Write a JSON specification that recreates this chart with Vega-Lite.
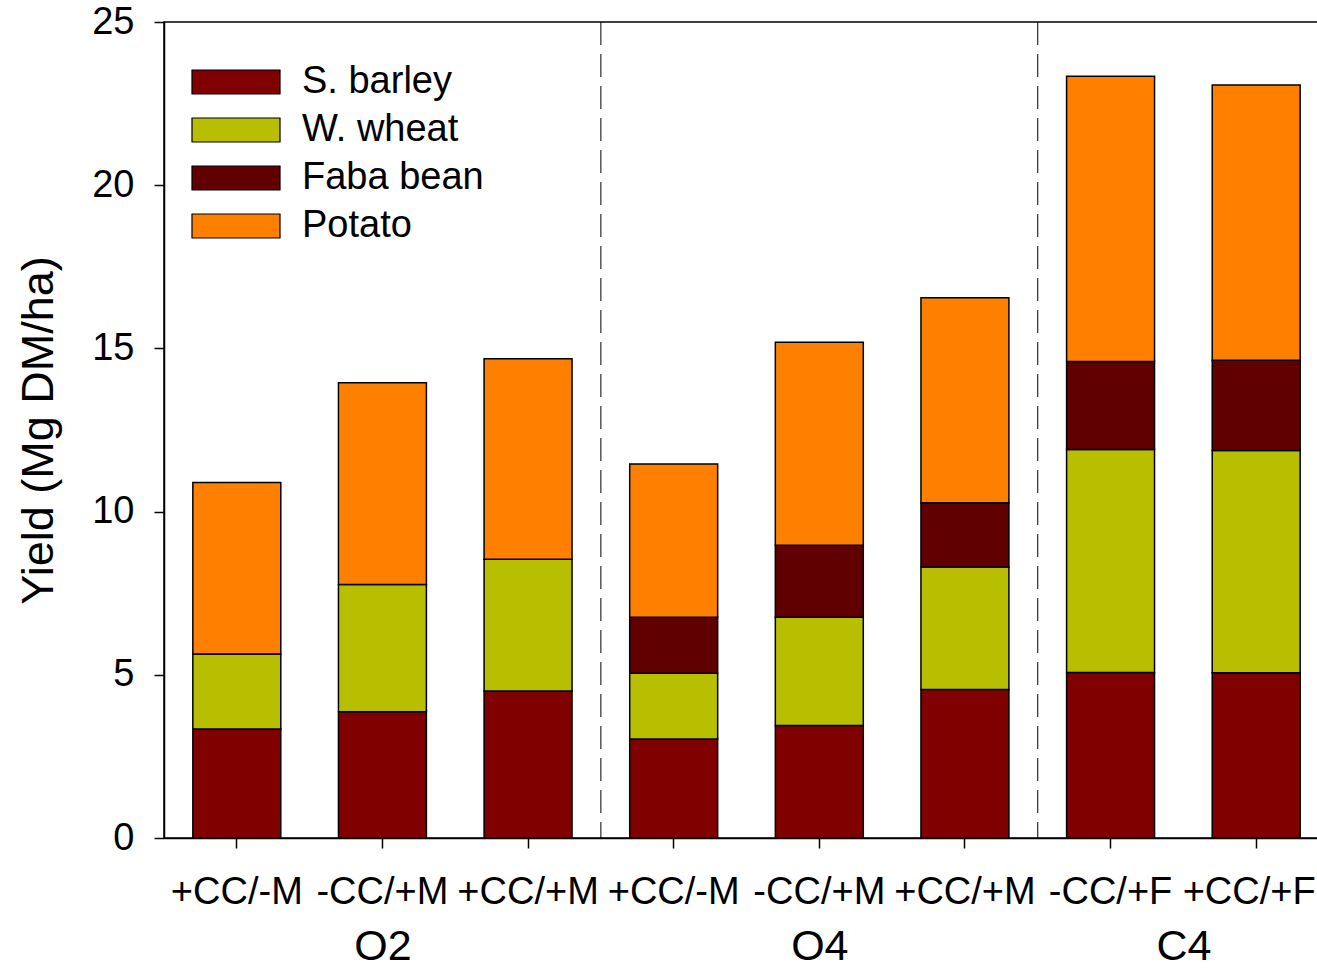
{
  "$schema": "https://vega.github.io/schema/vega-lite/v6.json",
  "width": 1165,
  "height": 816,
  "autosize": {"type": "none"},
  "padding": {"left": 164, "top": 22, "right": -12, "bottom": 132},
  "background": "white",
  "config": {
    "font": "Liberation Sans",
    "view": {"stroke": "black", "strokeWidth": 1.5},
    "axis": {"grid": false, "domainColor": "black", "tickColor": "black", "labelColor": "black", "titleColor": "black", "domainWidth": 1.5, "tickWidth": 1.5}
  },
  "layer": [
    {
      "data": {"values": [
        {"bar": "O2 +CC/-M", "crop": "S. barley", "rank": 1, "yield": 3.34},
        {"bar": "O2 +CC/-M", "crop": "W. wheat", "rank": 2, "yield": 2.30},
        {"bar": "O2 +CC/-M", "crop": "Potato", "rank": 4, "yield": 5.25},
        {"bar": "O2 -CC/+M", "crop": "S. barley", "rank": 1, "yield": 3.87},
        {"bar": "O2 -CC/+M", "crop": "W. wheat", "rank": 2, "yield": 3.90},
        {"bar": "O2 -CC/+M", "crop": "Potato", "rank": 4, "yield": 6.18},
        {"bar": "O2 +CC/+M", "crop": "S. barley", "rank": 1, "yield": 4.50},
        {"bar": "O2 +CC/+M", "crop": "W. wheat", "rank": 2, "yield": 4.04},
        {"bar": "O2 +CC/+M", "crop": "Potato", "rank": 4, "yield": 6.14},
        {"bar": "O4 +CC/-M", "crop": "S. barley", "rank": 1, "yield": 3.03},
        {"bar": "O4 +CC/-M", "crop": "W. wheat", "rank": 2, "yield": 2.02},
        {"bar": "O4 +CC/-M", "crop": "Faba bean", "rank": 3, "yield": 1.71},
        {"bar": "O4 +CC/-M", "crop": "Potato", "rank": 4, "yield": 4.70},
        {"bar": "O4 -CC/+M", "crop": "S. barley", "rank": 1, "yield": 3.45},
        {"bar": "O4 -CC/+M", "crop": "W. wheat", "rank": 2, "yield": 3.31},
        {"bar": "O4 -CC/+M", "crop": "Faba bean", "rank": 3, "yield": 2.21},
        {"bar": "O4 -CC/+M", "crop": "Potato", "rank": 4, "yield": 6.22},
        {"bar": "O4 +CC/+M", "crop": "S. barley", "rank": 1, "yield": 4.55},
        {"bar": "O4 +CC/+M", "crop": "W. wheat", "rank": 2, "yield": 3.75},
        {"bar": "O4 +CC/+M", "crop": "Faba bean", "rank": 3, "yield": 1.97},
        {"bar": "O4 +CC/+M", "crop": "Potato", "rank": 4, "yield": 6.28},
        {"bar": "C4 -CC/+F", "crop": "S. barley", "rank": 1, "yield": 5.07},
        {"bar": "C4 -CC/+F", "crop": "W. wheat", "rank": 2, "yield": 6.83},
        {"bar": "C4 -CC/+F", "crop": "Faba bean", "rank": 3, "yield": 2.70},
        {"bar": "C4 -CC/+F", "crop": "Potato", "rank": 4, "yield": 8.74},
        {"bar": "C4 +CC/+F", "crop": "S. barley", "rank": 1, "yield": 5.06},
        {"bar": "C4 +CC/+F", "crop": "W. wheat", "rank": 2, "yield": 6.81},
        {"bar": "C4 +CC/+F", "crop": "Faba bean", "rank": 3, "yield": 2.77},
        {"bar": "C4 +CC/+F", "crop": "Potato", "rank": 4, "yield": 8.43}
      ]},
      "mark": {"type": "bar", "stroke": "black", "strokeWidth": 1.5},
      "encoding": {
        "x": {
          "field": "bar", "type": "nominal", "sort": null,
          "scale": {"paddingInner": 0.396, "paddingOuter": 0.198},
          "axis": {"title": null, "orient": "bottom", "labelExpr": "split(datum.label, ' ')[1]", "labelAngle": 0, "labelFontSize": 38, "tickSize": 10, "labelPadding": 25, "labelOverlap": false, "labelLimit": 400, "labelBound": false,
                   "labelOffset": {"condition": {"test": "datum.value == 'C4 +CC/+F'", "value": -7}, "value": 0}}
        },
        "y": {
          "field": "yield", "type": "quantitative", "stack": "zero",
          "scale": {"domain": [0, 25], "nice": false},
          "axis": {"title": "Yield (Mg DM/ha)", "values": [0, 5, 10, 15, 20, 25], "tickSize": 10, "labelFontSize": 38, "labelPadding": 20, "titleFontSize": 45, "titleFontWeight": "normal", "titlePadding": 30}
        },
        "color": {
          "field": "crop", "type": "nominal",
          "sort": ["S. barley", "W. wheat", "Faba bean", "Potato"],
          "scale": {"domain": ["S. barley", "W. wheat", "Faba bean", "Potato"], "range": ["#800000", "#B8BF00", "#600000", "#FF8000"]},
          "legend": {"orient": "none", "legendX": 53, "legendY": 41, "title": null, "symbolType": "M-3.667,-1H3.667V1H-3.667Z", "symbolSize": 576, "symbolStrokeColor": "black", "symbolStrokeWidth": 1.2, "symbolOpacity": 1, "labelFontSize": 38, "labelOffset": 47, "rowPadding": 10, "padding": 0, "labelLimit": 400, "labelColor": "black"}
        },
        "order": {"field": "rank", "type": "quantitative", "sort": "ascending"}
      }
    },
    {
      "data": {"values": [{"divider": 3.5}, {"divider": 6.5}]},
      "mark": {"type": "rule", "strokeDash": [23, 9], "color": "black", "strokeWidth": 1},
      "encoding": {
        "x": {
          "field": "divider", "type": "quantitative",
          "scale": {"domain": [0.5, 8.5], "nice": false, "zero": false},
          "axis": {"title": null, "orient": "bottom", "values": [2, 5, 7.5], "labelExpr": "datum.value == 2 ? 'O2' : (datum.value == 5 ? 'O4' : 'C4')", "ticks": false, "domain": false, "labelFontSize": 43, "labelPadding": 87, "labelOverlap": false, "labelBound": false, "labelFlush": false}
        }
      }
    }
  ],
  "resolve": {"scale": {"x": "independent"}, "axis": {"x": "independent"}}
}
